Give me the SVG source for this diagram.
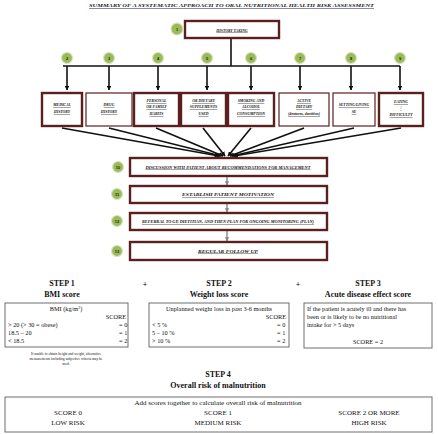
<svg xmlns="http://www.w3.org/2000/svg" width="438" height="434" viewBox="0 0 438 434">
<defs>
<style>
.hd{font-family:"Liberation Serif",serif;font-weight:bold;font-style:italic;text-decoration:underline;fill:#1a1a2a}
.bx{fill:#fff;stroke:#5c1f1f;stroke-width:2.4}
.bxt{fill:#fff;stroke:#5c1f1f;stroke-width:1.2}
.lab{font-family:"Liberation Serif",serif;font-weight:bold;font-style:italic;text-decoration:underline;font-size:3.8px;fill:#111;text-anchor:middle}
.num{font-family:"Liberation Sans",sans-serif;font-weight:bold;font-size:4px;fill:#222;text-anchor:middle}
.circ{fill:#9bbb59;stroke:#d9e4c3;stroke-width:1.2}
.con{stroke:#111;stroke-width:1.6;fill:none}
.sm{stroke:#888;stroke-width:1.4;fill:none}
.st{font-family:"Liberation Serif",serif;font-weight:bold;font-size:8px;fill:#111;text-anchor:middle}
.tb{fill:#fff;stroke:#6e6e6e;stroke-width:1}
.tx{font-family:"Liberation Serif",serif;font-size:6.3px;fill:#111}
.tr{font-family:"Liberation Serif",serif;font-size:7px;fill:#111;text-anchor:middle}
.ft{font-family:"Liberation Serif",serif;font-size:3.6px;fill:#111}
</style>
<marker id="ah" viewBox="0 0 10 10" refX="9" refY="5" markerWidth="3" markerHeight="3" orient="auto"><path d="M0,0 L10,5 L0,10 z" fill="#111"/></marker>
<marker id="ag" viewBox="0 0 10 10" refX="9" refY="5" markerWidth="3" markerHeight="3" orient="auto"><path d="M0,0 L10,5 L0,10 z" fill="#888"/></marker>
</defs>
<rect width="438" height="434" fill="#fff"/>
<text class="hd" x="89" y="7" font-size="5" textLength="285" lengthAdjust="spacingAndGlyphs">SUMMARY OF A SYSTEMATIC APPROACH TO ORAL NUTRITIONAL HEALTH RISK ASSESSMENT</text>

<g id="connectors">
<line class="con" x1="231" y1="38" x2="231" y2="66" stroke-width="2.2"/>
<line class="con" x1="63" y1="66" x2="400" y2="66" stroke-width="3"/>
<line class="con" x1="67" y1="66" x2="67" y2="90" stroke-width="2" marker-end="url(#ah)"/>
<line class="con" x1="109" y1="66" x2="109" y2="90" stroke-width="2" marker-end="url(#ah)"/>
<line class="con" x1="158" y1="66" x2="158" y2="90" stroke-width="2" marker-end="url(#ah)"/>
<line class="con" x1="207" y1="66" x2="207" y2="90" stroke-width="2" marker-end="url(#ah)"/>
<line class="con" x1="251" y1="66" x2="251" y2="90" stroke-width="2" marker-end="url(#ah)"/>
<line class="con" x1="300" y1="66" x2="300" y2="90" stroke-width="2" marker-end="url(#ah)"/>
<line class="con" x1="351" y1="66" x2="351" y2="90" stroke-width="2" marker-end="url(#ah)"/>
<line class="con" x1="400" y1="66" x2="400" y2="90" stroke-width="2" marker-end="url(#ah)"/>
<line class="con" x1="62" y1="128" x2="219" y2="156" marker-end="url(#ah)"/>
<line class="con" x1="109" y1="128" x2="221" y2="156" marker-end="url(#ah)"/>
<line class="con" x1="156" y1="128" x2="223" y2="156" marker-end="url(#ah)"/>
<line class="con" x1="203" y1="128" x2="225" y2="156" marker-end="url(#ah)"/>
<line class="con" x1="251" y1="128" x2="228" y2="156" marker-end="url(#ah)"/>
<line class="con" x1="304" y1="128" x2="230" y2="156" marker-end="url(#ah)"/>
<line class="con" x1="354" y1="128" x2="232" y2="156" marker-end="url(#ah)"/>
<line class="con" x1="401" y1="128" x2="234" y2="156" marker-end="url(#ah)"/>
<line class="sm" x1="227" y1="177" x2="227" y2="185" marker-end="url(#ag)"/>
<line class="sm" x1="227" y1="204" x2="227" y2="212" marker-end="url(#ag)"/>
<line class="sm" x1="227" y1="231" x2="227" y2="241" marker-end="url(#ag)"/>
</g>

<g id="n1">
<rect class="bx" x="185" y="21" width="94" height="17"/>
<text class="lab" x="232" y="31.5" font-size="6.2">HISTORY TAKING</text>
<circle class="circ" cx="177" cy="29" r="6"/><text class="num" x="177" y="30.5">1</text>
</g>

<g id="n2"><circle class="circ" cx="67" cy="58" r="5.5"/><text class="num" x="67" y="59.5">2</text>
<rect class="bx" x="42" y="93" width="40" height="33"/>
<text class="lab" x="62" y="106">MEDICAL</text><text class="lab" x="62" y="113">HISTORY</text></g>

<g id="n3"><circle class="circ" cx="109" cy="58" r="5.5"/><text class="num" x="109" y="59.5">3</text>
<rect class="bxt" x="86" y="93" width="46" height="33"/>
<text class="lab" x="109" y="106">DRUG</text><text class="lab" x="109" y="113">HISTORY</text></g>

<g id="n4"><circle class="circ" cx="158" cy="58" r="5.5"/><text class="num" x="158" y="59.5">4</text>
<rect class="bx" x="134" y="93" width="45" height="33"/>
<text class="lab" x="156.5" y="102">PERSONAL</text><text class="lab" x="156.5" y="108">OR FAMILY</text><text class="lab" x="156.5" y="115">HABITS</text></g>

<g id="n5"><circle class="circ" cx="207" cy="58" r="5.5"/><text class="num" x="207" y="59.5">5</text>
<rect class="bx" x="181" y="93" width="45" height="33"/>
<text class="lab" x="203.5" y="102">OR DIETARY</text><text class="lab" x="203.5" y="108">SUPPLEMENTS</text><text class="lab" x="203.5" y="115">USED</text></g>

<g id="n6"><circle class="circ" cx="251" cy="58" r="5.5"/><text class="num" x="251" y="59.5">6</text>
<rect class="bx" x="228" y="93" width="46" height="33"/>
<text class="lab" x="251" y="102">SMOKING AND</text><text class="lab" x="251" y="108">ALCOHOL</text><text class="lab" x="251" y="115">CONSUMPTION</text></g>

<g id="n7"><circle class="circ" cx="300" cy="58" r="5.5"/><text class="num" x="300" y="59.5">7</text>
<rect class="bxt" x="279" y="93" width="50" height="33"/>
<text class="lab" x="304" y="102">ACTIVE</text><text class="lab" x="304" y="108">DIETARY</text><text class="lab" x="304" y="115" font-size="3.2">(dentures, dentition)</text></g>

<g id="n8"><circle class="circ" cx="351" cy="58" r="5.5"/><text class="num" x="351" y="59.5">8</text>
<rect class="bxt" x="333" y="93" width="42" height="33"/>
<text class="lab" x="354" y="106">SETTING/LIVING</text><text class="lab" x="354" y="113">SE</text></g>

<g id="n9"><circle class="circ" cx="400" cy="58" r="5.5"/><text class="num" x="400" y="59.5">9</text>
<rect class="bx" x="379" y="93" width="44" height="33"/>
<text class="lab" x="401" y="103">EATING</text><text class="lab" x="401" y="109">/</text><text class="lab" x="401" y="116">DIFFICULTY</text></g>

<g id="n10"><circle class="circ" cx="118" cy="167" r="5.5"/><text class="num" x="118" y="168.5">10</text>
<rect class="bx" x="130" y="158" width="197" height="18"/>
<text class="lab" x="228" y="168.5" textLength="165" lengthAdjust="spacingAndGlyphs">DISCUSSION WITH PATIENT ABOUT RECOMMENDATIONS FOR MANAGEMENT</text></g>

<g id="n11"><circle class="circ" cx="117" cy="194" r="5.5"/><text class="num" x="117" y="195.5">11</text>
<rect class="bx" x="130" y="186" width="197" height="17"/>
<text class="lab" x="228" y="196" textLength="92" lengthAdjust="spacingAndGlyphs">ESTABLISH PATIENT MOTIVATION</text></g>

<g id="n12"><circle class="circ" cx="117" cy="221" r="5.5"/><text class="num" x="117" y="222.5">12</text>
<rect class="bx" x="130" y="213" width="197" height="17"/>
<text class="lab" x="228" y="223" textLength="172" lengthAdjust="spacingAndGlyphs">REFERRAL TO GP, DIETITIAN, AND THEN PLAN FOR ONGOING MONITORING (PLAN)</text></g>

<g id="n13"><circle class="circ" cx="117" cy="251" r="5.5"/><text class="num" x="117" y="252.5">13</text>
<rect class="bx" x="130" y="242" width="197" height="18"/>
<text class="lab" x="228" y="252.5" textLength="60" lengthAdjust="spacingAndGlyphs">REGULAR FOLLOW UP</text></g>

<g id="step1">
<text class="st" x="62" y="286">STEP 1</text>
<text class="st" x="62" y="297">BMI score</text>
<rect class="tb" x="5" y="303" width="123" height="44"/>
<text class="tx" x="66" y="311" text-anchor="middle">BMI (kg/m<tspan font-size="4" dy="-2.5">2</tspan><tspan dy="2.5">)</tspan></text>
<text class="tx" x="126" y="319" text-anchor="end">SCORE</text>
<text class="tx" x="8" y="327">&gt; 20 (&gt; 30 = obese)</text><text class="tx" x="119" y="327">= 0</text>
<text class="tx" x="8" y="335">18.5 – 20</text><text class="tx" x="119" y="335">= 1</text>
<text class="tx" x="8" y="343">&lt; 18.5</text><text class="tx" x="119" y="343">= 2</text>
<text class="ft" x="66" y="355" text-anchor="middle">If unable to obtain height and weight, alternative</text>
<text class="ft" x="66" y="360" text-anchor="middle">measurements including subjective criteria may be</text>
<text class="ft" x="66" y="365" text-anchor="middle">used.</text>
</g>
<text class="st" x="145" y="287" font-size="7">+</text>
<g id="step2">
<text class="st" x="219" y="286">STEP 2</text>
<text class="st" x="219" y="297">Weight loss score</text>
<rect class="tb" x="149" y="303" width="140" height="44"/>
<text class="tx" x="219" y="311" text-anchor="middle">Unplanned weight loss in past 3-6 months</text>
<text class="tx" x="286" y="319" text-anchor="end">SCORE</text>
<text class="tx" x="152" y="327">&lt; 5 %</text><text class="tx" x="277" y="327">= 0</text>
<text class="tx" x="152" y="335">5 – 10 %</text><text class="tx" x="277" y="335">= 1</text>
<text class="tx" x="152" y="343">&gt; 10 %</text><text class="tx" x="277" y="343">= 2</text>
</g>
<text class="st" x="298" y="287" font-size="7">+</text>
<g id="step3">
<text class="st" x="368" y="286">STEP 3</text>
<text class="st" x="368" y="297">Acute disease effect score</text>
<rect class="tb" x="304" y="303" width="128" height="45"/>
<text class="tx" x="307" y="311">If the patient is acutely ill and there has</text>
<text class="tx" x="307" y="319">been or is likely to be no nutritional</text>
<text class="tx" x="307" y="327">intake for &gt; 5 days</text>
<text class="tx" x="368" y="344" text-anchor="middle">SCORE = 2</text>
</g>
<g id="step4">
<text class="st" x="218" y="377">STEP 4</text>
<text class="st" x="218" y="388">Overall risk of malnutrition</text>
<rect class="tb" x="5" y="397" width="427" height="35"/>
<text class="tr" x="218" y="405">Add scores together to calculate overall risk of malnutrition</text>
<text class="tr" x="68" y="415">SCORE 0</text><text class="tr" x="218" y="415">SCORE 1</text><text class="tr" x="369" y="415">SCORE 2 OR MORE</text>
<text class="tr" x="68" y="425">LOW RISK</text><text class="tr" x="218" y="425">MEDIUM RISK</text><text class="tr" x="369" y="425">HIGH RISK</text>
</g>
</svg>
